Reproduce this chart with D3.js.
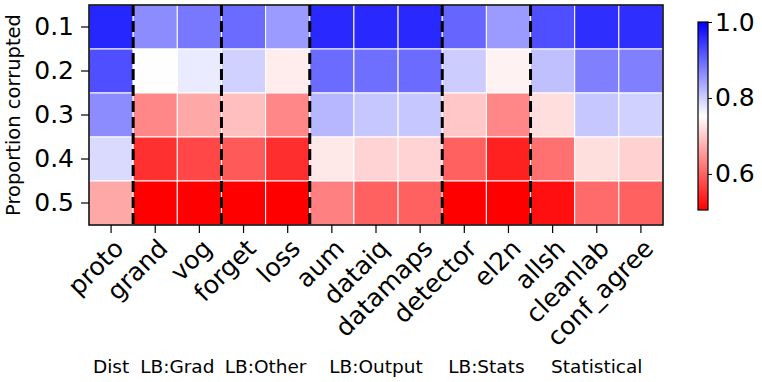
<!DOCTYPE html>
<html>
<head>
<meta charset="utf-8">
<script src="https://cdn.jsdelivr.net/npm/d3@7"></script>
<style>
  body { margin: 0; background: #fff; }
  text { font-family: "DejaVu Sans", sans-serif; fill: #000; }
</style>
</head>
<body>
<script>
// data
var methods = ['proto','grand','vog','forget','loss','aum','dataiq','datamaps','detector','el2n','allsh','cleanlab','conf_agree'];
var rows = ['0.1','0.2','0.3','0.4','0.5'];
var groupNames = ['Dist','LB:Grad','LB:Other','LB:Output','LB:Stats','Statistical'];
var groupSizes = [1, 2, 2, 3, 2, 3];
var cbTicks = [0.6, 0.8, 1.0];

var row01 = [0.963, 0.864, 0.884, 0.896, 0.851, 0.960, 0.960, 0.960, 0.901, 0.851, 0.923, 0.955, 0.955];
var row02 = [0.923, 0.752, 0.772, 0.797, 0.734, 0.896, 0.893, 0.896, 0.802, 0.740, 0.814, 0.876, 0.876];
var row03 = [0.864, 0.636, 0.668, 0.690, 0.636, 0.822, 0.807, 0.807, 0.698, 0.636, 0.720, 0.807, 0.797];
var row04 = [0.788, 0.552, 0.574, 0.592, 0.550, 0.730, 0.710, 0.710, 0.599, 0.536, 0.614, 0.720, 0.708];
var row05 = [0.668, 0.500, 0.500, 0.500, 0.500, 0.629, 0.599, 0.599, 0.500, 0.500, 0.520, 0.609, 0.599];
var values = [row01, row02, row03, row04, row05];

var vmin = 0.505, vmax = 1.0;

window.onload = function(){
    var W = 762, H = 382;
    var left = 89, right = 663, top = 5, bottom = 225;

    var svg = d3.select(document.body).append('svg')
        .attr('width', W).attr('height', H);

    var x = d3.scaleBand().domain(methods).range([left, right]).padding(0);
    var y = d3.scaleBand().domain(rows).range([top, bottom]).padding(0);

    // bwr_r : red -> white -> blue
    var color = d3.scaleLinear()
        .domain([vmin, (vmin + vmax) / 2, vmax])
        .range(['#ff0000', '#ffffff', '#0000ff'])
        .interpolate(d3.interpolateRgb)
        .clamp(true);

    var cells = [];
    values.forEach(function(r, i){
        r.forEach(function(v, j){
            cells.push({row: rows[i], col: methods[j], v: v});
        });
    });

    svg.append('g').selectAll('rect')
        .data(cells).enter().append('rect')
        .attr('x', function(d){ return x(d.col); })
        .attr('y', function(d){ return y(d.row); })
        .attr('width', x.bandwidth())
        .attr('height', y.bandwidth())
        .attr('fill', function(d){ return color(d.v); })
        .attr('stroke', '#fff')
        .attr('stroke-width', 1);

    // dashed group separators
    var bounds = [], acc = 0;
    groupSizes.forEach(function(n){ acc += n; bounds.push(acc); });
    svg.append('g').selectAll('line')
        .data(bounds.slice(0, -1)).enter().append('line')
        .attr('x1', function(d){ return x(methods[d]); })
        .attr('x2', function(d){ return x(methods[d]); })
        .attr('y1', top).attr('y2', bottom)
        .attr('stroke', '#000')
        .attr('stroke-width', 3)
        .attr('stroke-dasharray', '11,5');

    // frame
    svg.append('rect')
        .attr('x', left).attr('y', top)
        .attr('width', right - left).attr('height', bottom - top)
        .attr('fill', 'none').attr('stroke', '#000').attr('stroke-width', 1.5);

    // y axis
    var yAxis = svg.append('g')
        .attr('transform', 'translate(' + left + ',0)')
        .call(d3.axisLeft(y).tickSize(8).tickPadding(7));
    yAxis.select('.domain').remove();
    yAxis.selectAll('line').attr('stroke', '#000').attr('stroke-width', 1.2);
    yAxis.selectAll('text')
        .style('font-family', '"DejaVu Sans", sans-serif')
        .style('font-size', '25px');

    svg.append('text')
        .attr('transform', 'translate(20,' + ((top + bottom) / 2) + ') rotate(-90)')
        .attr('text-anchor', 'middle')
        .style('font-size', '19.5px')
        .text('Proportion corrupted');

    // x axis
    var xAxis = svg.append('g')
        .attr('transform', 'translate(0,' + bottom + ')')
        .call(d3.axisBottom(x).tickSize(8).tickFormat(''));
    xAxis.select('.domain').remove();
    xAxis.selectAll('line').attr('stroke', '#000').attr('stroke-width', 1.2);

    svg.append('g').selectAll('text')
        .data(methods).enter().append('text')
        .attr('transform', function(d){
            return 'translate(' + (x(d) + x.bandwidth() / 2 + 14) + ',' + (bottom + 25) + ') rotate(-45)';
        })
        .attr('text-anchor', 'end')
        .style('font-size', '25px')
        .text(function(d){ return d; });

    // group labels
    var start = 0;
    groupNames.forEach(function(g, i){
        var a = x(methods[start]);
        var b = x(methods[start + groupSizes[i] - 1]) + x.bandwidth();
        svg.append('text')
            .attr('x', (a + b) / 2)
            .attr('y', 373)
            .attr('text-anchor', 'middle')
            .style('font-size', '18.5px')
            .text(g);
        start += groupSizes[i];
    });

    // colorbar
    var cbX = 698, cbW = 10, cbTop = 22, cbBot = 210;
    var cbScale = d3.scaleLinear().domain([vmin, vmax]).range([cbBot, cbTop]);

    var grad = svg.append('defs').append('linearGradient')
        .attr('id', 'cbgrad')
        .attr('x1', 0).attr('y1', 1).attr('x2', 0).attr('y2', 0);
    d3.range(0, 1.0001, 0.1).forEach(function(t){
        grad.append('stop')
            .attr('offset', t)
            .attr('stop-color', color(vmin + t * (vmax - vmin)));
    });
    svg.append('rect')
        .attr('x', cbX).attr('y', cbTop)
        .attr('width', cbW).attr('height', cbBot - cbTop)
        .attr('fill', 'url(#cbgrad)')
        .attr('stroke', '#000').attr('stroke-width', 1.2);

    var cbAxis = svg.append('g')
        .attr('transform', 'translate(' + (cbX + cbW) + ',0)')
        .call(d3.axisRight(cbScale).tickValues(cbTicks).tickSize(4).tickPadding(3).tickFormat(d3.format('.1f')));
    cbAxis.select('.domain').remove();
    cbAxis.selectAll('line').attr('stroke', '#000');
    cbAxis.selectAll('text')
        .style('font-family', '"DejaVu Sans", sans-serif')
        .style('font-size', '25px');
};
</script>
</body>
</html>
